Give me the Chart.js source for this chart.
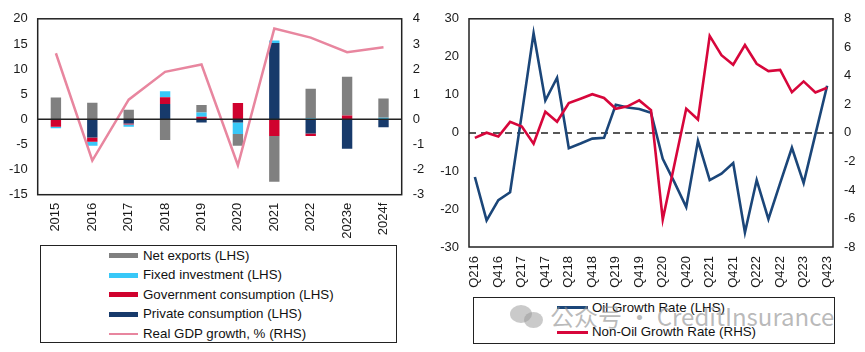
<!DOCTYPE html>
<html>
<head>
<meta charset="utf-8">
<script src="https://cdn.jsdelivr.net/npm/chart.js@4.4.0/dist/chart.umd.min.js"></script>
<style>
body { margin: 0; background: #fff; width: 865px; height: 352px; overflow: hidden; position: relative; font-family: "Liberation Sans", Arial, sans-serif; }
canvas { position: absolute; }
.legend { position: absolute; border: 1.5px solid #222; box-sizing: border-box; background: #fff; }
.item { position: absolute; font-size: 13.3px; color: #111; white-space: nowrap; line-height: 15px; }
.swatch { position: absolute; }
.mark { position: absolute; font-family: "Noto Sans CJK SC", "Noto Sans", sans-serif; font-size: 24px; color: rgba(140,140,140,0.6); white-space: nowrap; line-height: 28px; }
.bub { position: absolute; border-radius: 50%; background: rgba(150,150,150,0.5); }
</style>
</head>
<body>
<canvas id="gdpChart" width="430" height="245" style="left:0;top:0"></canvas>
<canvas id="oilChart" width="435" height="295" style="left:430px;top:0"></canvas>
<div id="gdpLegend" class="legend" style="left:40px;top:245px;width:357px;height:98px"></div>
<div id="oilLegend" class="legend" style="left:473px;top:297px;width:362px;height:47px"></div>
<div class="bub" style="left:510px;top:305px;width:22px;height:18px"></div>
<div class="bub" style="left:524px;top:312px;width:19px;height:16px"></div>
<div class="mark" style="left:550px;top:302px">公众号 · CreditInsurance</div>
<script>
// left chart: GDP contributions
var years = ['2015', '2016', '2017', '2018', '2019', '2020', '2021', '2022', '2023e', '2024f'];
var netExports = [4.35, 3.3, 1.9, -4.1, 1.5, -2.35, -9.1, 5.9, 7.7, 3.85];
var fixedInvestment = [-0.3, -0.8, -0.45, 1.2, 0.85, -2.25, 0.5, 0.2, 0, 0.3];
var govConsumption = [-1.5, -0.85, -0.2, 1.35, 0.5, 3.25, -3.3, -0.5, 0.75, 0];
var privConsumption = [0, -3.6, -0.85, 3.05, -0.65, -0.65, 15.2, -2.8, -5.85, -1.6];
var gdpGrowth = [2.63, -1.64, 0.78, 1.89, 2.18, -1.83, 3.61, 3.25, 2.67, 2.87];

// right chart: oil vs non-oil
var quarters = ['Q216', 'Q316', 'Q416', 'Q117', 'Q217', 'Q317', 'Q417', 'Q118', 'Q218', 'Q318', 'Q418',
    'Q119', 'Q219', 'Q319', 'Q419', 'Q120', 'Q220', 'Q320', 'Q420', 'Q121', 'Q221', 'Q321', 'Q421',
    'Q122', 'Q222', 'Q322', 'Q422', 'Q123', 'Q223', 'Q323', 'Q423'];
var oilGrowth = [-11.6, -23.0, -17.7, -15.6, 5.0, 26.2, 8.5, 14.5, -4.0, -2.8, -1.5,
    -1.3, 7.4, 6.7, 6.3, 5.3, -6.8, -13.0, -19.5, -2.1, -12.4, -10.7, -7.9,
    -26.2, -12.4, -22.7, -13.2, -3.9, -13.2, -0.4, 12.4];
var nonOilGrowth = [-0.35, 0.01, -0.25, 0.77, 0.44, -0.76, 1.48, 0.78, 2.09, 2.39, 2.71,
    2.45, 1.69, 1.86, 2.28, 1.6, -6.07, -2.2, 1.7, 0.94, 6.8, 5.45, 4.78,
    6.16, 4.85, 4.33, 4.42, 2.85, 3.61, 2.84, 3.17];

Chart.defaults.font.family = '"Liberation Sans", Arial, sans-serif';
Chart.defaults.font.size = 13;
Chart.defaults.color = '#1a1a1a';
Chart.defaults.animation = false;

var plotFrame = {
    id: 'plotFrame',
    beforeDatasetsDraw: function (chart, args, opts) {
        if (!opts.dashed) return;
        var a = chart.chartArea, c = chart.ctx, y = chart.scales.y.getPixelForValue(0);
        c.save();
        c.strokeStyle = '#222';
        c.lineWidth = 1.5;
        c.setLineDash([7, 5]);
        c.beginPath();
        c.moveTo(a.left, y);
        c.lineTo(a.right, y);
        c.stroke();
        c.restore();
    },
    afterDatasetsDraw: function (chart, args, opts) {
        var a = chart.chartArea, c = chart.ctx;
        c.save();
        c.strokeStyle = '#222';
        c.lineWidth = 1.5;
        if (!opts.dashed) {
            var y = chart.scales.y.getPixelForValue(0);
            c.beginPath();
            c.moveTo(a.left, y);
            c.lineTo(a.right, y);
            c.stroke();
        }
        c.strokeRect(a.left, a.top, a.right - a.left, a.bottom - a.top);
        c.restore();
    }
};

function fixWidth(w) { return function (s) { s.width = w; }; }
function fixHeight(h) { return function (s) { s.height = h; }; }
var noGrid = { display: false, drawTicks: false };

var gdpChart = new Chart(document.getElementById('gdpChart'), {
    type: 'bar',
    plugins: [plotFrame],
    data: {
        labels: years,
        datasets: [
            { type: 'line', label: 'Real GDP growth, % (RHS)', data: gdpGrowth, yAxisID: 'y1',
              borderColor: '#E8869F', backgroundColor: '#E8869F', borderWidth: 2.5, pointRadius: 0, tension: 0 },
            { label: 'Private consumption (LHS)', data: privConsumption, backgroundColor: '#173A6B' },
            { label: 'Government consumption (LHS)', data: govConsumption, backgroundColor: '#D0022E' },
            { label: 'Fixed investment (LHS)', data: fixedInvestment, backgroundColor: '#38C8F8' },
            { label: 'Net exports (LHS)', data: netExports, backgroundColor: '#808080' }
        ]
    },
    options: {
        responsive: false,
        layout: { padding: { top: 14.7 } },
        datasets: { bar: { barPercentage: 0.285, categoryPercentage: 1 } },
        plugins: { legend: { display: false }, tooltip: { enabled: false }, plotFrame: { dashed: false } },
        scales: {
            x: {
                stacked: true,
                afterFit: fixHeight(50.3),
                grid: noGrid,
                border: { display: false },
                ticks: { minRotation: 90, maxRotation: 90, autoSkip: false, padding: 8 }
            },
            y: {
                stacked: true, min: -15, max: 20,
                afterFit: fixWidth(37.7),
                grid: noGrid,
                border: { display: false },
                ticks: { stepSize: 5, padding: 10 }
            },
            y1: {
                position: 'right', min: -3, max: 4,
                afterFit: fixWidth(28.3),
                grid: noGrid,
                border: { display: false },
                ticks: { stepSize: 1, padding: 11 }
            }
        }
    }
});

var oilChart = new Chart(document.getElementById('oilChart'), {
    type: 'line',
    plugins: [plotFrame],
    data: {
        labels: quarters,
        datasets: [
            { label: 'Oil Growth Rate (LHS)', data: oilGrowth, yAxisID: 'y', order: 1,
              borderColor: '#1B4679', backgroundColor: '#1B4679', borderWidth: 2.6, pointRadius: 0, tension: 0 },
            { label: 'Non-Oil Growth Rate (RHS)', data: nonOilGrowth, yAxisID: 'y1', order: 0,
              borderColor: '#D7063B', backgroundColor: '#D7063B', borderWidth: 2.6, pointRadius: 0, tension: 0 }
        ]
    },
    options: {
        responsive: false,
        layout: { padding: { top: 15.3 } },
        plugins: { legend: { display: false }, tooltip: { enabled: false }, plotFrame: { dashed: true } },
        scales: {
            x: {
                offset: true,
                afterFit: fixHeight(48),
                grid: noGrid,
                border: { display: false },
                ticks: {
                    minRotation: 90, maxRotation: 90, autoSkip: false, padding: 9,
                    callback: function (v, i) { return i % 2 === 0 ? quarters[i] : ''; }
                }
            },
            y: {
                min: -30, max: 30,
                afterFit: fixWidth(39),
                grid: noGrid,
                border: { display: false },
                ticks: { stepSize: 10, padding: 10 }
            },
            y1: {
                position: 'right', min: -8, max: 8,
                afterFit: fixWidth(32),
                grid: noGrid,
                border: { display: false },
                ticks: { stepSize: 2, padding: 11 }
            }
        }
    }
});

// legends built from the chart datasets
function buildLegend(chart, boxId, order, swLeft, txtLeft, rowTop, rowStep, swW) {
    var box = document.getElementById(boxId);
    var isLine = chart.config.type === 'line';
    order.forEach(function (di, r) {
        var ds = chart.data.datasets[di];
        var cy = rowTop + r * rowStep;
        var h = isLine ? 3 : (ds.type === 'line' ? 2.5 : 5);
        var sw = document.createElement('div');
        sw.className = 'swatch';
        sw.style.cssText = 'left:' + swLeft + 'px;top:' + (cy - h / 2) + 'px;width:' + swW + 'px;height:' + h + 'px;background:' +
            (isLine || ds.type === 'line' ? ds.borderColor : ds.backgroundColor);
        var t = document.createElement('div');
        t.className = 'item';
        t.style.left = txtLeft + 'px';
        t.style.top = (cy - 8) + 'px';
        t.textContent = ds.label;
        box.appendChild(sw);
        box.appendChild(t);
    });
}
buildLegend(gdpChart, 'gdpLegend', [4, 3, 2, 1, 0], 68, 102, 9.5, 19.6, 29);
buildLegend(oilChart, 'oilLegend', [0, 1], 83, 118, 9.5, 24.6, 31);
</script>
</body>
</html>
